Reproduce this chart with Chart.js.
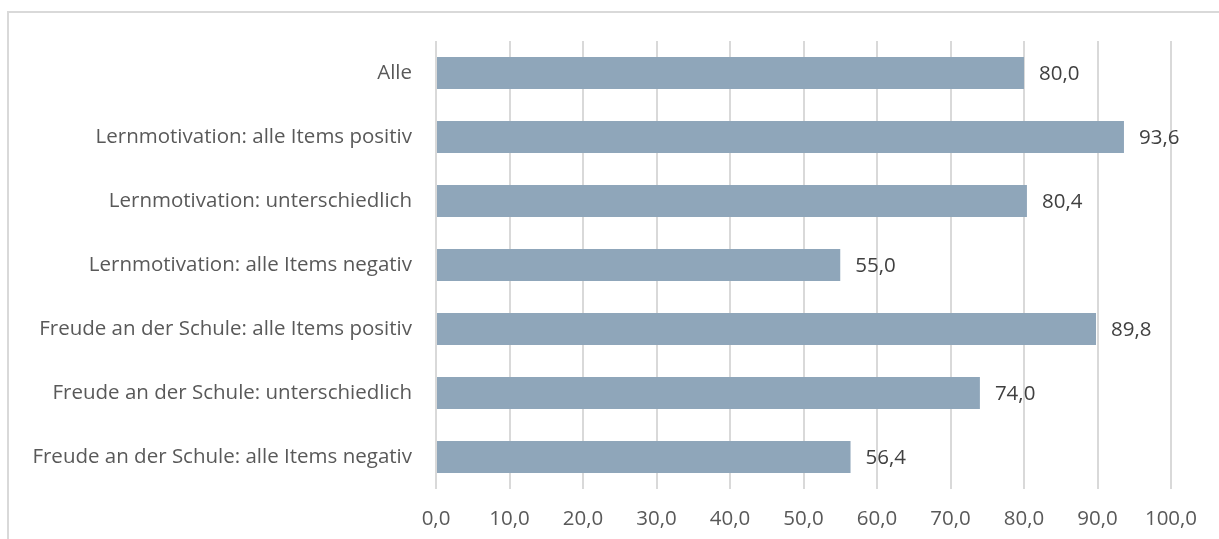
<!DOCTYPE html>
<html>
<head>
<meta charset="utf-8">
<script src="https://cdn.jsdelivr.net/npm/chart.js@4"></script>
<style>
  html, body { margin: 0; padding: 0; background: #fff; overflow: hidden; }
  #wrap { position: relative; width: 1219px; height: 539px; }
  #frame { position: absolute; left: 7px; top: 11px; width: 1300px; height: 600px; border: 2px solid #d9d9d9; }
  canvas { position: absolute; left: 0; top: 0; }
</style>
</head>
<body>
<div id="wrap">
  <div id="frame"></div>
  <canvas id="myChart" width="1219" height="539"></canvas>
</div>
<script>
var categories = [
  'Alle',
  'Lernmotivation: alle Items positiv',
  'Lernmotivation: unterschiedlich',
  'Lernmotivation: alle Items negativ',
  'Freude an der Schule: alle Items positiv',
  'Freude an der Schule: unterschiedlich',
  'Freude an der Schule: alle Items negativ'
];
var values = [80.0, 93.6, 80.4, 55.0, 89.8, 74.0, 56.4];
var xTicks = [0, 10, 20, 30, 40, 50, 60, 70, 80, 90, 100];

function deNum(v) { return v.toFixed(1).replace('.', ','); }

// Werte rechts neben die Balken schreiben
var valueLabels = {
  id: 'valueLabels',
  afterDatasetsDraw: function(chart) {
    var ctx = chart.ctx;
    var meta = chart.getDatasetMeta(0);
    ctx.save();
    ctx.font = '20.5px "Open Sans"';
    ctx.fillStyle = '#404040';
    ctx.textAlign = 'left';
    ctx.textBaseline = 'middle';
    meta.data.forEach(function(bar, i) {
      ctx.fillText(deNum(values[i]), bar.x + 15, bar.y + 1);
    });
    ctx.restore();
  }
};

var ctx = document.getElementById('myChart').getContext('2d');
var myChart = new Chart(ctx, {
  type: 'bar',
  data: {
    labels: categories,
    datasets: [{
      data: values,
      backgroundColor: '#8fa6ba',
      borderWidth: 0,
      barPercentage: 0.5,
      categoryPercentage: 1.0
    }]
  },
  options: {
    indexAxis: 'y',
    responsive: false,
    animation: false,
    layout: { padding: { top: 41, right: 48, bottom: 0, left: 0 } },
    plugins: { legend: { display: false }, tooltip: { enabled: false } },
    scales: {
      x: {
        min: 0,
        max: 100,
        afterBuildTicks: function(scale) {
          scale.ticks = xTicks.map(function(v) { return { value: v }; });
        },
        afterFit: function(scale) { scale.height = 50; },
        grid: { color: '#d9d9d9', lineWidth: 2, drawTicks: false },
        border: { display: false },
        ticks: {
          padding: 18,
          color: '#595959',
          font: { family: '"Open Sans"', size: 20.5 },
          maxRotation: 0,
          callback: function(v) { return deNum(v); }
        }
      },
      y: {
        afterFit: function(scale) { scale.width = 436; },
        grid: { display: false, drawTicks: false },
        border: { display: false },
        ticks: {
          padding: 24,
          color: '#595959',
          font: { family: '"Open Sans"', size: 20.5 }
        }
      }
    }
  },
  plugins: [valueLabels]
});
</script>
</body>
</html>
